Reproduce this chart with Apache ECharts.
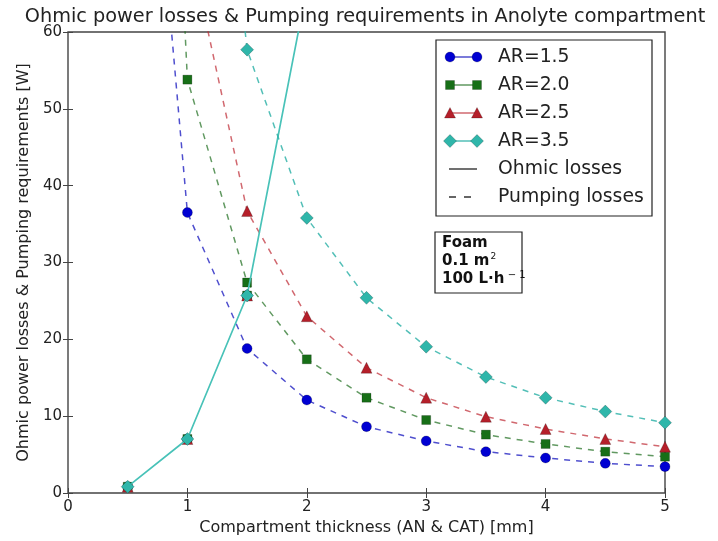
<!DOCTYPE html>
<html>
<head>
<meta charset="utf-8">
<script src="https://cdn.jsdelivr.net/npm/echarts@6/dist/echarts.min.js"></script>
<style>
  html, body { margin: 0; padding: 0; background: #ffffff; }
  #chart { width: 718px; height: 541px; }
</style>
</head>
<body>
<div id="chart"></div>
<script>
// Compartment thickness [mm]
const thicknessAll = [0.5, 1.0, 1.5, 2.0, 2.5, 3.0, 3.5, 4.0, 4.5, 5.0];
const thicknessFrom1 = [1.0, 1.5, 2.0, 2.5, 3.0, 3.5, 4.0, 4.5, 5.0];
const ohmicThickness = [0.5, 1.0, 1.5, 2.0];

// Ohmic power losses [W] (same for every aspect ratio)
const ohmicLoss = [0.82, 7.03, 25.7, 65.7];

// Pumping requirements [W] per aspect ratio
const pumpAR15 = [125, 36.5, 18.8, 12.1, 8.63, 6.77, 5.38, 4.56, 3.86, 3.43];
const pumpAR20 = [215, 53.8, 27.4, 17.4, 12.4, 9.5, 7.6, 6.38, 5.38, 4.73];
const pumpAR25 = [72.4, 36.7, 23.0, 16.3, 12.4, 9.93, 8.33, 7.03, 6.03];
const pumpAR35 = [130, 57.7, 35.8, 25.4, 19.04, 15.1, 12.4, 10.6, 9.15];

const legendNames = ['AR=1.5', 'AR=2.0', 'AR=2.5', 'AR=3.5'];
const xTicks = [0, 1, 2, 3, 4, 5];
const yTicks = [0, 10, 20, 30, 40, 50, 60];

const FONT = 'DejaVu Sans';

const styles = [
  { marker: '#0000d2', line: 'rgba(20,20,190,0.75)', symbol: 'circle', size: 10 },
  { marker: '#176f17', line: 'rgba(30,110,30,0.7)', symbol: 'rect', size: 9 },
  { marker: '#b51f2a', line: 'rgba(190,40,50,0.7)', symbol: 'triangle', size: 11 },
  { marker: '#2fb6aa', line: 'rgba(40,175,165,0.8)', symbol: 'diamond', size: 13 }
];
// The ohmic curves coincide; the last one drawn is the one that shows
const ohmicLineColor = 'rgb(72,194,184)';

const pumpSets = [
  { xs: thicknessAll, ys: pumpAR15 },
  { xs: thicknessAll, ys: pumpAR20 },
  { xs: thicknessFrom1, ys: pumpAR25 },
  { xs: thicknessFrom1, ys: pumpAR35 }
];

const pairs = (xs, ys) => ys.map((v, i) => [xs[i], v]);

const series = [];
styles.forEach((st, k) => {
  const itemStyle = { color: st.marker, borderColor: 'rgba(0,0,0,0.35)', borderWidth: 0.6 };
  const topmost = k === styles.length - 1;
  series.push({
    name: legendNames[k] + ' ohmic',
    type: 'line',
    data: pairs(ohmicThickness, ohmicLoss),
    symbol: st.symbol,
    symbolSize: st.size,
    itemStyle: itemStyle,
    lineStyle: { color: ohmicLineColor, width: 1.7, type: 'solid', opacity: topmost ? 1 : 0 },
    clip: true,
    animation: false,
    z: 2 + k
  });
  series.push({
    name: legendNames[k],
    type: 'line',
    data: pairs(pumpSets[k].xs, pumpSets[k].ys),
    symbol: st.symbol,
    symbolSize: st.size,
    itemStyle: itemStyle,
    lineStyle: { color: st.line, width: 1.5, type: [6, 6] },
    clip: true,
    animation: false,
    z: 2 + k
  });
});

// Legend drawn as graphic items (marker-line-marker handles)
const legendX = 436, legendY = 40, legendW = 216, legendH = 176;
const rowY = [57, 85, 113, 141, 169, 197];
const legendGraphics = [{
  type: 'rect', shape: { x: legendX, y: legendY, width: legendW, height: legendH },
  style: { fill: '#ffffff', stroke: '#222', lineWidth: 1.2 }, z: 100
}];
styles.forEach((st, k) => {
  const y = rowY[k];
  legendGraphics.push({
    type: 'line', shape: { x1: 450, y1: y, x2: 477, y2: y },
    style: { stroke: st.line, lineWidth: 1.5 }, z: 101
  });
  [450, 477].forEach(cx => {
    const sty = { fill: st.marker, stroke: 'rgba(0,0,0,0.35)', lineWidth: 0.6 };
    if (st.symbol === 'circle') {
      legendGraphics.push({ type: 'circle', shape: { cx: cx, cy: y, r: 5 }, style: sty, z: 102 });
    } else if (st.symbol === 'rect') {
      legendGraphics.push({ type: 'rect', shape: { x: cx - 4.5, y: y - 4.5, width: 9, height: 9 }, style: sty, z: 102 });
    } else if (st.symbol === 'triangle') {
      legendGraphics.push({ type: 'polygon', shape: { points: [[cx, y - 5.5], [cx + 5.5, y + 5], [cx - 5.5, y + 5]] }, style: sty, z: 102 });
    } else {
      legendGraphics.push({ type: 'polygon', shape: { points: [[cx, y - 6.5], [cx + 6.5, y], [cx, y + 6.5], [cx - 6.5, y]] }, style: sty, z: 102 });
    }
  });
});
legendGraphics.push({
  type: 'line', shape: { x1: 449, y1: rowY[4], x2: 477, y2: rowY[4] },
  style: { stroke: '#333', lineWidth: 1.4 }, z: 101
});
legendGraphics.push({
  type: 'line', shape: { x1: 449, y1: rowY[5], x2: 478, y2: rowY[5] },
  style: { stroke: '#333', lineWidth: 1.4, lineDash: [7, 8] }, z: 101
});
const legendLabels = legendNames.concat(['Ohmic losses', 'Pumping losses']);
legendLabels.forEach((t, k) => {
  legendGraphics.push({
    type: 'text', x: 498, y: rowY[k],
    style: { text: t, font: '18.8px "' + FONT + '"', fill: '#222', verticalAlign: 'middle', align: 'left' },
    z: 103
  });
});

// Operating-condition annotation
const noteGraphics = [
  { type: 'rect', shape: { x: 435, y: 232, width: 87, height: 61 },
    style: { fill: '#ffffff', stroke: '#222', lineWidth: 1.2 }, z: 100 },
  { type: 'text', x: 442, y: 243,
    style: { text: 'Foam', font: 'bold 15px "' + FONT + '"', fill: '#111', verticalAlign: 'middle' }, z: 101 },
  { type: 'text', x: 442, y: 261,
    style: { text: '{b|0.1 m}{s|2}', verticalAlign: 'middle',
      rich: { b: { font: 'bold 15px "' + FONT + '"', fill: '#111' },
              s: { font: '9px "' + FONT + '"', fill: '#111', padding: [0, 0, 9, 1] } } }, z: 101 },
  { type: 'text', x: 442, y: 279,
    style: { text: '{b|100 L·h}{s| − 1}', verticalAlign: 'middle',
      rich: { b: { font: 'bold 15px "' + FONT + '"', fill: '#111' },
              s: { font: '10px "' + FONT + '"', fill: '#111', padding: [0, 0, 8, 0] } } }, z: 101 }
];

const chart = echarts.init(document.getElementById('chart'), null, { renderer: 'canvas' });

const tickStyle = { show: true, inside: true, length: 5, lineStyle: { color: '#444', width: 1 } };

chart.setOption({
  animation: false,
  backgroundColor: '#ffffff',
  title: {
    text: 'Ohmic power losses & Pumping requirements in Anolyte compartment',
    left: 360, top: 2, textAlign: 'center',
    textStyle: { fontFamily: FONT, fontSize: 19.3, fontWeight: 'normal', color: '#222' }
  },
  grid: { left: 68, right: 53, top: 32, bottom: 48, show: true, borderColor: '#444', borderWidth: 1.4, backgroundColor: 'transparent' },
  xAxis: [{
    type: 'value', min: xTicks[0], max: xTicks[xTicks.length - 1], interval: 1,
    name: 'Compartment thickness (AN & CAT) [mm]', nameLocation: 'middle', nameGap: 23,
    nameTextStyle: { fontFamily: FONT, fontSize: 16, color: '#222' },
    axisLine: { show: false }, axisTick: tickStyle, splitLine: { show: false },
    axisLabel: { fontFamily: FONT, fontSize: 15, color: '#222', margin: 7 }
  }, {
    type: 'value', position: 'top', min: xTicks[0], max: xTicks[xTicks.length - 1], interval: 1,
    axisLine: { show: false }, axisTick: tickStyle, splitLine: { show: false }, axisLabel: { show: false }
  }],
  yAxis: [{
    type: 'value', min: yTicks[0], max: yTicks[yTicks.length - 1], interval: 10,
    name: 'Ohmic power losses & Pumping requirements [W]', nameLocation: 'middle', nameGap: 33, nameRotate: 90,
    nameTextStyle: { fontFamily: FONT, fontSize: 16, color: '#222' },
    axisLine: { show: false }, axisTick: tickStyle, splitLine: { show: false },
    axisLabel: { fontFamily: FONT, fontSize: 15, color: '#222', margin: 6 }
  }, {
    type: 'value', position: 'right', min: yTicks[0], max: yTicks[yTicks.length - 1], interval: 10,
    axisLine: { show: false }, axisTick: tickStyle, splitLine: { show: false }, axisLabel: { show: false }
  }],
  series: series,
  graphic: legendGraphics.concat(noteGraphics)
});
</script>
</body>
</html>
